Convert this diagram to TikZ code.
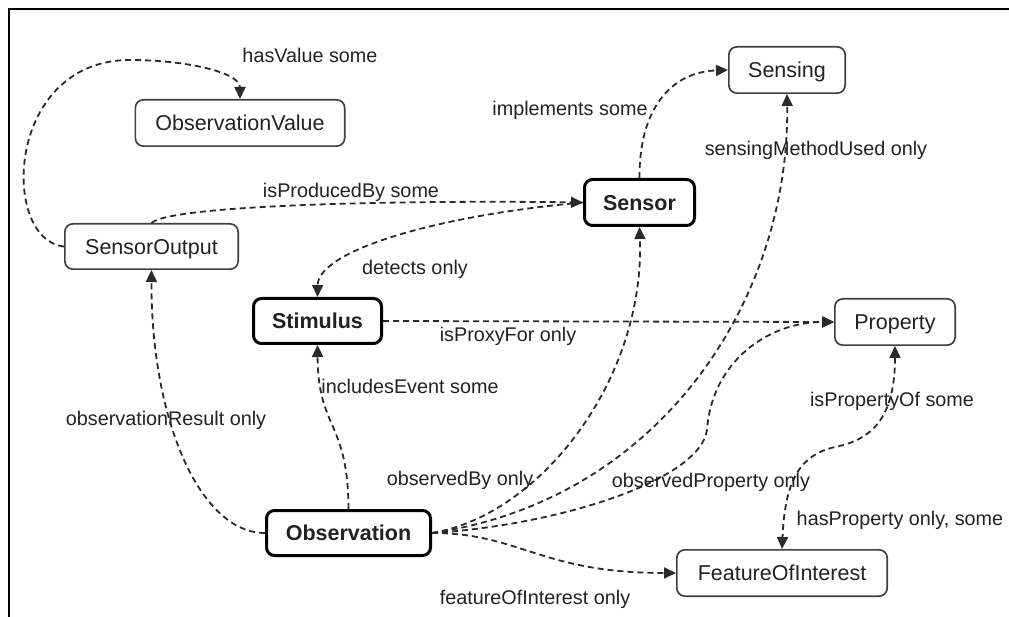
\documentclass[tikz,border=0pt]{standalone}
\usepackage{fontspec}
\setmainfont{Liberation Sans}
\usetikzlibrary{arrows.meta}
\definecolor{txt}{HTML}{222222}
\definecolor{edge}{HTML}{2A2A2A}
\definecolor{boxgray}{HTML}{404040}
\begin{document}
\begin{tikzpicture}[x=1pt,y=-1pt,
  >={Triangle[length=12pt,width=11pt]},
  box/.style={draw=boxgray, line width=1.7pt, rounded corners=8pt, fill=white,
    font=\fontsize{21.5}{24}\selectfont, text=txt, inner sep=0pt,
    text height=15.4pt, text depth=0pt},
  keybox/.style={box, draw=black, line width=3pt,
    font=\fontsize{21.5}{24}\selectfont\bfseries},
  rel/.style={draw=edge, line width=1.8pt, dash pattern=on 6pt off 4pt, ->},
  lbl/.style={font=\fontsize{19.8}{22}\selectfont, text=txt, inner sep=0pt,
    text height=14.2pt, text depth=0pt},
]
\useasboundingbox (0,0) rectangle (1009,617);
% open frame
\draw[line width=2.5pt, black] (9,617) -- (9,9) -- (1009,9);

% classes
\node[box, minimum width=209.3pt, minimum height=46.3pt] (ObservationValue) at (240,123) {ObservationValue};
\node[box, minimum width=173.3pt, minimum height=45.3pt] (SensorOutput) at (151.5,246.5) {SensorOutput};
\node[box, minimum width=116.3pt, minimum height=46.3pt] (Sensing) at (787,70) {Sensing};
\node[keybox, minimum width=110pt, minimum height=46pt] (Sensor) at (639.5,202.5) {Sensor};
\node[keybox, minimum width=128pt, minimum height=45pt] (Stimulus) at (317.5,321) {Stimulus};
\node[box, minimum width=120.3pt, minimum height=46.3pt] (Property) at (895,322) {Property};
\node[keybox, minimum width=164pt, minimum height=45pt] (Observation) at (348.5,533) {Observation};
\node[box, minimum width=210.3pt, minimum height=46.3pt] (FeatureOfInterest) at (782,573) {FeatureOfInterest};

% relations
\draw[rel] (SensorOutput.west) .. controls (0,240) and (5,60) .. (130,60)
  .. controls (185,60) and (240,72) .. (ObservationValue.north);
\draw[rel] (SensorOutput.north) .. controls (170,205) and (400,200) .. (Sensor.west);
\draw[rel] (Sensor.west) .. controls (440,215) and (318,250) .. (Stimulus.north);
\draw[rel] (Sensor.north) .. controls (639,110) and (670,72) .. (Sensing.west);
\draw[rel] (Observation.east) .. controls (660,500) and (790,300) .. (Sensing.south);
\draw[rel] (Observation.east) .. controls (540,515) and (645,380) .. (Sensor.south);
\draw[rel] (Observation.east) .. controls (560,525) and (700,480) .. (707,430)
  .. controls (712,360) and (770,322) .. (Property.west);
\draw[rel] (Observation.east) .. controls (520,533) and (540,573) .. (FeatureOfInterest.west);
\draw[rel] (Stimulus.east) -- (Property.west);
\draw[rel] (Observation.north) .. controls (348,420) and (318,430) .. (Stimulus.south);
\draw[rel] (Observation.west) .. controls (200,533) and (151,420) .. (SensorOutput.south);
\draw[rel, <->] (Property.south) .. controls (895,420) and (870,440) .. (835,447)
  .. controls (800,455) and (785,480) .. (FeatureOfInterest.north);

% relation labels
\node[lbl] (lHasValue) at (310,55) {hasValue some};
\node[lbl] (lProduced) at (351,190) {isProducedBy some};
\node[lbl] (lImplements) at (570,108) {implements some};
\node[lbl] (lMethod) at (816,148) {sensingMethodUsed only};
\node[lbl] (lDetects) at (415,267) {detects only};
\node[lbl] (lProxy) at (508,334) {isProxyFor only};
\node[lbl] (lIncludes) at (410,386) {includesEvent some};
\node[lbl] (lResult) at (166,418) {observationResult only};
\node[lbl] (lPropOf) at (892,399) {isPropertyOf some};
\node[lbl] (lObsBy) at (460,478) {observedBy only};
\node[lbl] (lObsProp) at (711,480) {observedProperty only};
\node[lbl] (lHasProp) at (900,518) {hasProperty only, some};
\node[lbl] (lFoI) at (535,597) {featureOfInterest only};
\end{tikzpicture}
\end{document}
